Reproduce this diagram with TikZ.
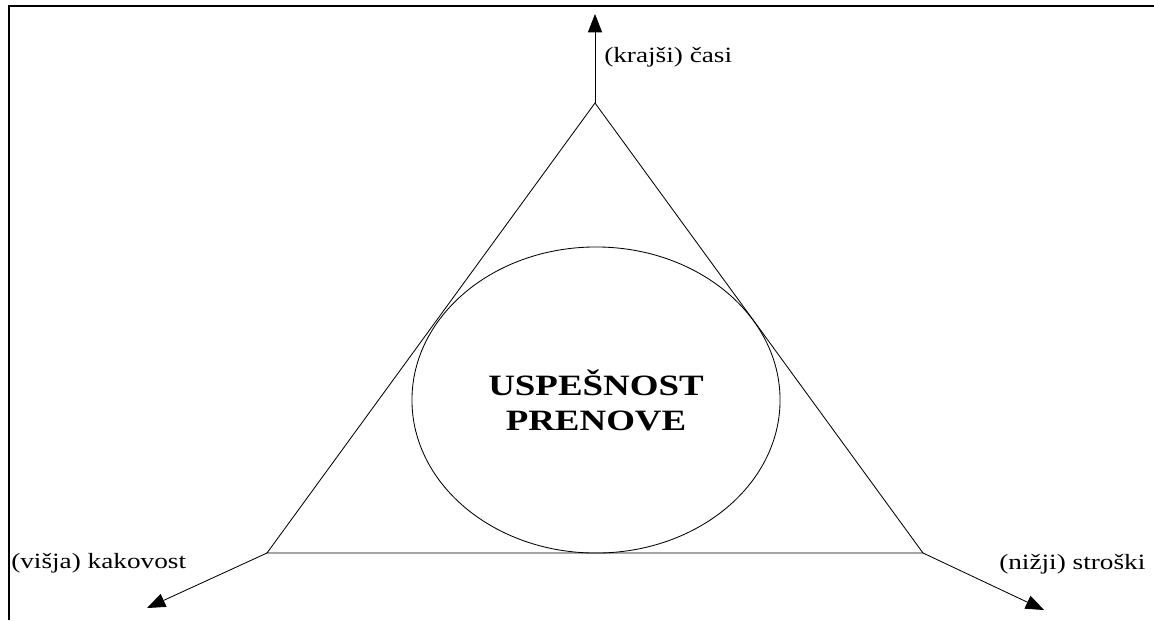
\documentclass[tikz,border=0pt]{standalone}
\usepackage{fontspec}
\setmainfont{Liberation Serif}
\newfontfamily\wideserif[FakeStretch=1.25]{Liberation Serif}
\usetikzlibrary{arrows.meta, positioning, shapes.geometric}

\begin{document}
\begin{tikzpicture}[x=0.025cm, y=-0.025cm,
    thinline/.style={line width=0.6pt},
    axisarrow/.style={thinline, -{Triangle[length=13pt, width=10pt]}},
    cornerlabel/.style={font=\wideserif\fontsize{15.5pt}{18pt}\selectfont, inner sep=0pt, anchor=west}]
    \useasboundingbox (0,0) rectangle (1154,620);
    \draw[line width=1.5pt] (9,620) -- (9,6) -- (1154,6);

    % vrhovi trikotnika
    \coordinate (top) at (595,103);
    \coordinate (left) at (267,553);
    \coordinate (right) at (923,553);
    \coordinate (uptip) at (595,14);
    \coordinate (lefttip) at (147,608);
    \coordinate (righttip) at (1044,610);

    \draw[thinline] (top) -- (left) -- (right) -- cycle;
    \node[ellipse, draw, thinline, minimum width=9.2cm, minimum height=7.65cm, align=center,
          font=\wideserif\bfseries\fontsize{21pt}{25pt}\selectfont] (goal) at (596,400) {USPEŠNOST\\PRENOVE};

    % puščice
    \draw[axisarrow] (top) -- (uptip);
    \draw[axisarrow] (left) -- (lefttip);
    \draw[axisarrow] (right) -- (righttip);

    % oznake
    \node[cornerlabel] (time) at (604,57) {(krajši) časi};
    \node[cornerlabel] (quality) at (11,563) {(višja) kakovost};
    \node[cornerlabel] (cost) at (999,564) {(nižji) stroški};
\end{tikzpicture}
\end{document}
